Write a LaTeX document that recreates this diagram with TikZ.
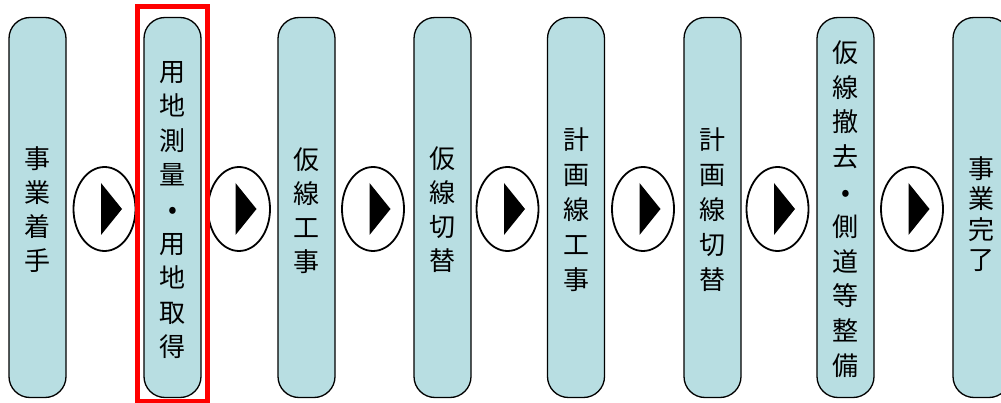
\documentclass[tikz,border=0pt]{standalone}
\usepackage{fontspec}
\newfontfamily\jp{Noto Sans CJK JP}
\usetikzlibrary{shapes.geometric}
\definecolor{boxfill}{HTML}{B8DEE2}
\definecolor{hlred}{HTML}{FF0000}
\begin{document}
\begin{tikzpicture}[x=1pt,y=-1pt,
  stepbox/.style={draw=black, line width=1.3pt, fill=boxfill, rounded corners=21pt,
    minimum width=57pt, minimum height=380pt, inner sep=0pt},
  steptext/.style={align=center, inner sep=0pt, text=black},
  arrowcirc/.style={draw=black, line width=1.8pt, fill=white, ellipse,
    minimum width=62pt, minimum height=84pt, inner sep=0pt},
  hlbox/.style={draw=hlred, line width=5pt}]
\useasboundingbox (0,0) rectangle (1001,403);
% boxes
\node[stepbox] (b1) at (37.5,207.5) {};
\node[stepbox] (b2) at (172.5,207.5) {};
\node[stepbox] (b3) at (306.5,207.5) {};
\node[stepbox] (b4) at (442.5,207.5) {};
\node[stepbox] (b5) at (576,207.5) {};
\node[stepbox] (b6) at (712.5,207.5) {};
\node[stepbox] (b7) at (845.5,207.5) {};
\node[stepbox] (b8) at (981.5,207.5) {};
% texts
\node[steptext, font={\jp\fontsize{26}{34}\selectfont}] (t1) at (37.5,210) {事\\業\\着\\手};
\node[steptext, font={\jp\fontsize{26}{34.4}\selectfont}] (t2) at (172.5,210) {用\\地\\測\\量\\•\\用\\地\\取\\得};
\node[steptext, font={\jp\fontsize{26}{34}\selectfont}] (t3) at (306.5,211) {仮\\線\\工\\事};
\node[steptext, font={\jp\fontsize{26}{34}\selectfont}] (t4) at (442.5,210) {仮\\線\\切\\替};
\node[steptext, font={\jp\fontsize{26}{35}\selectfont}] (t5) at (576,209.5) {計\\画\\線\\工\\事};
\node[steptext, font={\jp\fontsize{26}{35}\selectfont}] (t6) at (712.5,209.5) {計\\画\\線\\切\\替};
\node[steptext, font={\jp\fontsize{26}{34.8}\selectfont}] (t7) at (845.5,209) {仮\\線\\撤\\去\\•\\側\\道\\等\\整\\備};
\node[steptext, font={\jp\fontsize{26}{30.5}\selectfont}] (t8) at (981.5,214) {事\\業\\完\\了};
% arrow symbols
\foreach \i/\x in {1/104.5,2/239,3/373,4/507.5,5/643,6/777.5,7/912}{
  \node[arrowcirc] (e\i) at (\x,209) {};
  \fill[black] ([shift={(-3.5,-26)}]e\i.center) -- ([shift={(17.5,0)}]e\i.center)
     -- ([shift={(-3.5,26)}]e\i.center) -- cycle;
}
% highlight
\node[hlbox, minimum width=70pt, minimum height=395pt, inner sep=0pt] (hl) at (172.5,204) {};
\end{tikzpicture}
\end{document}
